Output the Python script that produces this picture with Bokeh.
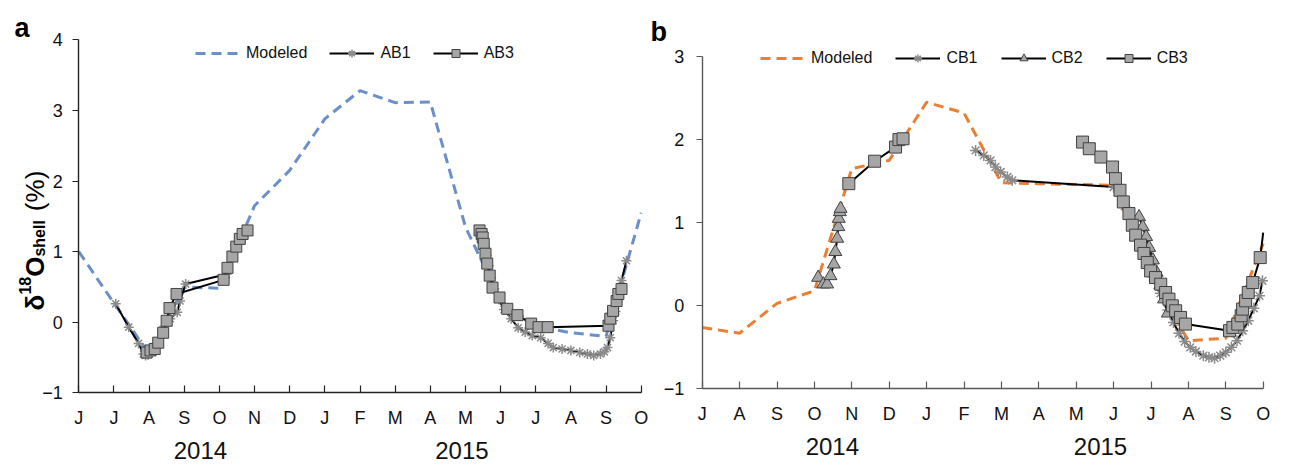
import math
from bokeh.plotting import figure
from bokeh.models import Range1d, FixedTicker, LinearAxis, Legend, LegendItem, Label
from bokeh.layouts import row
from bokeh.embed import file_html
from bokeh.resources import INLINE

FONT = "Liberation Sans"
NAN = float("nan")

# ---------------- data: panel a (x = months since 1 Jun 2014) ----------------
months_a = ["J", "J", "A", "S", "O", "N", "D", "J", "F", "M", "A", "M", "J", "J", "A", "S", "O"]
years = ["2014", "2015"]
year_pos_a = [3.46, 10.9]

model_a_x = list(range(17))
model_a_y = [1.0, 0.27, -0.45, 0.5, 0.48, 1.65, 2.15, 2.88, 3.28, 3.11, 3.12, 1.35, 0.3, -0.05, -0.15, -0.2, 1.55]

ab1_x = [1.05, 1.42, 1.7, 1.84, 1.9, 1.97, 2.05, 2.2, 2.4, 2.6, 2.8, 2.88, 3.04, 4.2,
         NAN,
         11.45, 11.5, 11.55, 11.6, 11.66, 11.73, 11.82, 11.95, 12.1, 12.3, 12.5, 12.7, 12.9, 13.14,
         13.35, 13.5, 13.75, 14.0, 14.25, 14.47, 14.65, 14.84, 14.95, 15.04, 15.12, 15.2, 15.27,
         15.33, 15.44, 15.58]
ab1_y = [0.26, -0.07, -0.3, -0.45, -0.47, -0.46, -0.42, -0.3, -0.1, 0.05, 0.14, 0.3, 0.54, 0.68,
         NAN,
         1.28, 1.18, 1.08, 0.95, 0.8, 0.63, 0.47, 0.32, 0.18, 0.05, -0.08, -0.14, -0.19, -0.22,
         -0.3, -0.36, -0.38, -0.4, -0.43, -0.45, -0.47, -0.45, -0.42, -0.36, -0.22, 0.02, 0.15,
         0.3, 0.59, 0.87]

ab3_x = [1.93, 2.04, 2.16, 2.26, 2.4, 2.5, 2.58, 2.78, 4.12, 4.23, 4.37, 4.48, 4.58, 4.66, 4.8,
         NAN,
         11.4, 11.46, 11.49, 11.52, 11.57, 11.62, 11.69, 11.77, 11.97, 12.19, 12.48, 12.87, 13.08,
         13.34, 15.07, 15.12, 15.2, 15.3, 15.35, 15.44]
ab3_y = [-0.43, -0.4, -0.38, -0.29, -0.15, 0.02, 0.2, 0.4, 0.6, 0.77, 0.93, 1.07, 1.18, 1.25, 1.3,
         NAN,
         1.3, 1.25, 1.2, 1.11, 0.97, 0.83, 0.66, 0.49, 0.35, 0.19, 0.1, -0.02, -0.07,
         -0.07, -0.05, 0.05, 0.16, 0.3, 0.4, 0.47]

# ---------------- data: panel b (x = months since 1 Jul 2014) ----------------
months_b = ["J", "A", "S", "O", "N", "D", "J", "F", "M", "A", "M", "J", "J", "A", "S", "O"]
year_pos_b = [3.48, 10.65]

model_b_x = list(range(16))
model_b_y = [-0.26, -0.33, 0.03, 0.18, 1.65, 1.75, 2.45, 2.32, 1.48, 1.47, 1.46, 1.45, 0.35, -0.42, -0.39, 0.75]

cb1_x = [7.31, 7.53, 7.71, 7.84, 7.98, 8.16, 8.29,
         11.0, 11.3, 11.6, 11.85, 12.05, 12.25, 12.45, 12.6, 12.75, 12.9, 13.05, 13.2, 13.4, 13.55,
         13.7, 13.85, 14.0, 14.15, 14.3, 14.45, 14.6, 14.75, 14.9, 14.98]
cb1_y = [1.87, 1.81, 1.75, 1.67, 1.61, 1.55, 1.51,
         1.43, 1.2, 0.9, 0.6, 0.35, 0.15, -0.05, -0.2, -0.33, -0.43, -0.5, -0.55, -0.6, -0.62,
         -0.63, -0.6, -0.56, -0.5, -0.42, -0.3, -0.18, -0.03, 0.12, 0.3]

cb2_x = [3.1, 3.24, 3.34, 3.43, 3.52, 3.56, 3.61, 3.64, 3.65, 3.68, 3.7,
         NAN,
         11.68, 11.78, 11.87, 11.95, 12.05, 12.15, 12.25, 12.35, 12.45]
cb2_y = [0.34, 0.26, 0.26, 0.36, 0.5, 0.65, 0.81, 0.95, 1.05, 1.13, 1.17,
         NAN,
         1.07, 0.95, 0.83, 0.7, 0.55, 0.4, 0.25, 0.08, -0.09]

# last CB3 value lies on the plot edge (1 Oct 2015): the line reaches it, its marker is cut off
cb3_x = [3.92, 4.61, 5.17, 5.26, 5.37,
         NAN,
         10.17, 10.35, 10.66, 10.97, 11.05, 11.17, 11.26, 11.41, 11.5, 11.59, 11.72, 11.81, 11.9,
         11.99, 12.12, 12.26, 12.39, 12.48, 12.57, 12.66, 12.79, 12.92,
         14.1, 14.19, 14.32, 14.41, 14.45, 14.53, 14.6, 14.72, 14.92, 15.0]
cb3_y = [1.47, 1.74, 1.91, 2.0, 2.01,
         NAN,
         1.97, 1.89, 1.79, 1.67, 1.53, 1.39, 1.25, 1.11, 0.97, 0.85, 0.73, 0.63, 0.52,
         0.42, 0.34, 0.26, 0.16, 0.08, 0.0, -0.06, -0.14, -0.22,
         -0.3, -0.26, -0.22, -0.12, -0.04, 0.06, 0.16, 0.28, 0.58, 0.88]

BLUE = "#6b8fc9"
ORANGE = "#ed7d31"
MFILL = "#a6a6a6"
MLINE = "#404040"
STAR = "#8a8a8a"
H = 466


def make_panel(width, x0_px, ppx, x_end, y0_px, ppy, months, year_pos, y_ticks, axis_color, y_standoff):
    x_start = -x0_px / ppx
    x_end_r = x_start + width / ppx
    y_end = y0_px / ppy
    y_start = -(H - y0_px) / ppy
    p = figure(width=width, height=H, x_range=Range1d(x_start, x_end_r), y_range=Range1d(y_start, y_end),
               output_backend="svg", toolbar_location=None, x_axis_location=None, y_axis_location=None,
               min_border_left=0, min_border_right=0, min_border_top=0, min_border_bottom=0)
    p.title.visible = False
    p.xgrid.visible = False
    p.ygrid.visible = False
    p.outline_line_color = None
    p.background_fill_color = "white"
    p.border_fill_color = "white"

    xa = LinearAxis(fixed_location=y_ticks[0], bounds=(0, x_end),
                    ticker=FixedTicker(ticks=list(range(len(months)))),
                    major_label_overrides={i: m for i, m in enumerate(months)},
                    axis_line_color=axis_color, axis_line_width=1.4,
                    major_tick_line_color=axis_color, major_tick_line_width=1.2,
                    major_tick_in=7, major_tick_out=0, minor_tick_line_color=None,
                    major_label_standoff=15, major_label_text_font=FONT,
                    major_label_text_font_size="18px", major_label_text_color="#111111")
    p.add_layout(xa, "below")
    yr = LinearAxis(fixed_location=y_ticks[0], ticker=FixedTicker(ticks=year_pos),
                    major_label_overrides={pos: y for pos, y in zip(year_pos, years)},
                    axis_line_color=None, major_tick_line_color=None, minor_tick_line_color=None,
                    major_tick_in=0, major_tick_out=0,
                    major_label_standoff=49, major_label_text_font=FONT,
                    major_label_text_font_size="24px", major_label_text_color="#111111")
    p.add_layout(yr, "below")
    ya = LinearAxis(fixed_location=0, bounds=(y_ticks[0], y_ticks[-1]),
                    ticker=FixedTicker(ticks=y_ticks),
                    axis_line_color=axis_color, axis_line_width=1.4,
                    major_tick_line_color=axis_color, major_tick_line_width=1.2,
                    major_tick_in=0, major_tick_out=6, minor_tick_line_color=None,
                    major_label_standoff=y_standoff, major_label_text_font=FONT,
                    major_label_text_font_size="18px", major_label_text_color="#111111")
    p.add_layout(ya, "left")

    def fx(px):
        return x_start + px / ppx

    def fy(py):
        return (y0_px - py) / ppy
    return p, fx, fy


def put(p, fx, fy, px, py, text, size, bold=False, angle=0.0, align="left"):
    p.add_layout(Label(x=fx(px), y=fy(py), text=text, text_font=FONT, text_font_size=f"{size}px",
                       text_font_style="bold" if bold else "normal", angle=angle,
                       text_align=align, text_baseline="alphabetic", text_color="black"))


def legend(items, x, y, spacing):
    return Legend(items=items, orientation="horizontal", location=(x, y), glyph_width=45, glyph_height=20,
                  label_standoff=6, spacing=spacing, padding=0, margin=0, border_line_color=None,
                  background_fill_alpha=0, label_text_font=FONT, label_text_font_size="16px",
                  label_text_color="#111111")


# ---------------- panel a ----------------
WA = 649
pa, fa_x, fa_y = make_panel(WA, 78.3, 35.15, 16, 321.7, 70.6, months_a, year_pos_a,
                            [-1, 0, 1, 2, 3, 4], "#222222", 10)

ma = pa.line(model_a_x, model_a_y, line_color=BLUE, line_width=3, line_dash="10 6")
l1 = pa.line(ab1_x, ab1_y, line_color="black", line_width=2)
s1 = pa.scatter(ab1_x, ab1_y, marker="asterisk", size=10, line_color=STAR, line_width=1.5)
l3 = pa.line(ab3_x, ab3_y, line_color="black", line_width=2)
s3 = pa.scatter(ab3_x, ab3_y, marker="square", size=11, fill_color=MFILL, line_color=MLINE, line_width=1)

pa.add_layout(legend([LegendItem(label="Modeled", renderers=[ma]),
                      LegendItem(label="AB1", renderers=[l1, s1]),
                      LegendItem(label="AB3", renderers=[l3, s3])], 195, H - 63, 22))

put(pa, fa_x, fa_y, 14, 27, "a", 27, bold=True)

# rotated y label: δ18Oshell (%)
rot = math.pi / 2
cur = 310.0
pieces = [("δ", 26, True, 34, 0.611, 0.0), ("18", 16, True, 24, 1.112, 0.0), ("O", 26, True, 34, 0.778, 0.0),
          ("shell", 16, True, 39, 2.279, 0.0), ("(%)", 26, False, 34, 1.555, 9.0)]
for txt, sz, bld, bx, wem, gap in pieces:
    cur -= gap
    put(pa, fa_x, fa_y, bx, cur, txt, sz, bold=bld, angle=rot)
    cur -= wem * sz

# ---------------- panel b ----------------
WB = 1293 - WA
OFF_B = WA
pb, fb_x0, fb_y = make_panel(WB, 701.7 - OFF_B, 37.4, 15, 305.3, 83.1, months_b, year_pos_b,
                             [-1, 0, 1, 2, 3], "#595959", 12)


def fb_x(px):
    return fb_x0(px - OFF_B)


mb = pb.line(model_b_x, model_b_y, line_color=ORANGE, line_width=3, line_dash="10 6")
k1 = pb.line(cb1_x, cb1_y, line_color="black", line_width=2)
t1 = pb.scatter(cb1_x, cb1_y, marker="asterisk", size=11, line_color=STAR, line_width=1.5)
k2 = pb.line(cb2_x, cb2_y, line_color="black", line_width=2)
t2 = pb.scatter(cb2_x, cb2_y, marker="triangle", size=13, fill_color=MFILL, line_color=MLINE, line_width=1)
k3 = pb.line(cb3_x, cb3_y, line_color="black", line_width=2)
t3 = pb.scatter(cb3_x[:-1], cb3_y[:-1], marker="square", size=12, fill_color=MFILL, line_color=MLINE,
                line_width=1)

pb.add_layout(legend([LegendItem(label="Modeled", renderers=[mb]),
                      LegendItem(label="CB1", renderers=[k1, t1]),
                      LegendItem(label="CB2", renderers=[k2, t2]),
                      LegendItem(label="CB3", renderers=[k3, t3])], 760 - OFF_B, H - 68, 23))

put(pb, fb_x, fb_y, OFF_B + 1, 31, "b", 27, bold=True)

layout = row(pa, pb)
open("out.html", "w").write(file_html(layout, INLINE))
